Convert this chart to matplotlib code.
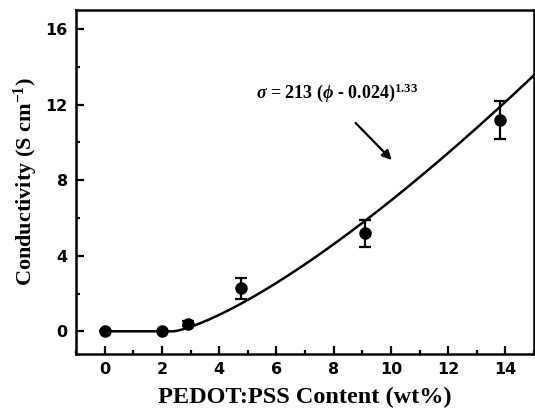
import matplotlib

matplotlib.use("Agg")
import matplotlib.pyplot as plt
import numpy as np
from matplotlib.ticker import MultipleLocator

# measured points (wt%, S/cm) with error bars
content = [0.0, 2.0, 2.9, 4.75, 9.1, 13.8]
sigma = [0.0, 0.03, 0.41, 2.27, 5.18, 11.2]
sigma_err = [0.0, 0.0, 0.15, 0.57, 0.7, 1.0]

# percolation fit shown in the annotation
FIT_A = 213
FIT_PHI_C = 0.024
FIT_T = 1.33

phi = np.linspace(0, 0.15, 400)
fit = FIT_A * np.clip(phi - FIT_PHI_C, 0, None) ** FIT_T

plt.rcParams.update({
    "mathtext.fontset": "custom",
    "mathtext.rm": "Liberation Serif:bold",
    "mathtext.it": "Liberation Serif:italic:bold",
    "mathtext.bf": "Liberation Serif:bold",
})
serif = ["Liberation Serif", "DejaVu Serif"]

fig = plt.figure(figsize=(5.35, 4.11), dpi=100)
ax = fig.add_axes([76 / 535, 57 / 411, 458 / 535, 344 / 411])

ax.plot(phi * 100, fit, color="black", lw=1.8)
ax.errorbar(content, sigma, yerr=sigma_err, fmt="o", color="black",
            ms=8, elinewidth=1.6, capsize=4, capthick=1.6)

ax.annotate("", xy=(10.1, 8.96), xytext=(8.7, 11.13),
            arrowprops=dict(arrowstyle="-|>", color="black", lw=1.6,
                            mutation_scale=14))
ax.text(5.3, 12.35,
        r"$\sigma$ = 213 ($\phi$ - 0.024)$^{1.33}$",
        fontsize=13, fontweight="bold", family=serif, va="baseline")

ax.set_xlim(-1, 15)
ax.set_ylim(-1.2, 17)
ax.xaxis.set_major_locator(MultipleLocator(2))
ax.xaxis.set_minor_locator(MultipleLocator(1))
ax.yaxis.set_major_locator(MultipleLocator(4))
ax.yaxis.set_minor_locator(MultipleLocator(2))
ax.tick_params(which="both", direction="in", width=1.6, top=False, right=False)
ax.tick_params(which="major", length=6, pad=6)
ax.tick_params(which="minor", length=3)
for lab in ax.get_xticklabels() + ax.get_yticklabels():
    lab.set_family("DejaVu Sans")
    lab.set_fontweight("bold")
    lab.set_fontsize(11.5)
for s in ax.spines.values():
    s.set_linewidth(1.8)

ax.set_xlabel("PEDOT:PSS Content (wt%)", fontsize=17.5, fontweight="bold",
              family=serif, labelpad=7)
ax.set_ylabel("Conductivity (S cm$^{-1}$)", fontsize=16,
              fontweight="bold", family=serif, labelpad=4)

fig.savefig("out.png", dpi=100)
